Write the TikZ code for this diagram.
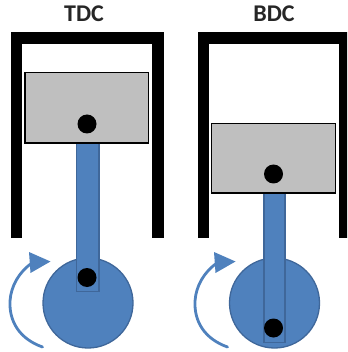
\documentclass[tikz,border=0pt]{standalone}
\usepackage{fontspec}
\setmainfont{Carlito}
\definecolor{bluefill}{HTML}{4F81BD}
\definecolor{blueline}{HTML}{3F679A}
\definecolor{pistongray}{HTML}{BFBFBF}
\tikzset{
  wall/.style={line width=11.5pt,line cap=butt,line join=miter,draw=black},
  piston/.style={draw=black,fill=pistongray,line width=1.8pt},
  rod/.style={draw=blueline,fill=bluefill,line width=1.3pt},
  crank/.style={draw=blueline,fill=bluefill,line width=1.3pt},
  pin/.style={fill=black},
  spin/.style={draw=bluefill,line width=2.8pt,line cap=round},
  title/.style={font=\fontsize{24}{26}\selectfont\bfseries,text=black!85,inner sep=0pt}
}
\begin{document}
\begin{tikzpicture}[x=1pt,y=-1pt]
\useasboundingbox (0,0) rectangle (347,352);
\clip (0,0) rectangle (347,352);
% left: TDC
\node[title] (tdc) at (84,14) {TDC};
\draw[wall] (16.5,238) -- (16.5,38) -- (158.2,38) -- (158.2,238);
\draw[crank] (88,303) circle (45);
\draw[rod] (76.5,143) rectangle (99,291.5);
\draw[piston] (25,72.5) rectangle (148.5,143);
\fill[pin] (87,124) circle (9.5);
\fill[pin] (87,277.5) circle (9.5);
\draw[spin] (42.5,347) .. controls (20,339) and (9,322) .. (10,301) .. controls (11,286) and (19,272) .. (32,263);
\fill[bluefill] (50.5,261.5) -- (29,252) -- (30.5,273) -- cycle;
% right: BDC
\node[title] (bdc) at (274,14) {BDC};
\draw[wall] (203.5,238) -- (203.5,38) -- (345,38) -- (345,238);
\draw[crank] (274.5,303) circle (45);
\draw[rod] (264,193) rectangle (285,342.5);
\draw[piston] (211.5,123.5) rectangle (335.5,193);
\fill[pin] (273.5,174) circle (9.5);
\fill[pin] (273.5,328) circle (9.5);
\draw[spin] (227.5,347) .. controls (205,339) and (194,322) .. (195,301) .. controls (196,286) and (204,272) .. (217,263);
\fill[bluefill] (235.5,261.5) -- (214,252) -- (215.5,273) -- cycle;
\end{tikzpicture}
\end{document}
